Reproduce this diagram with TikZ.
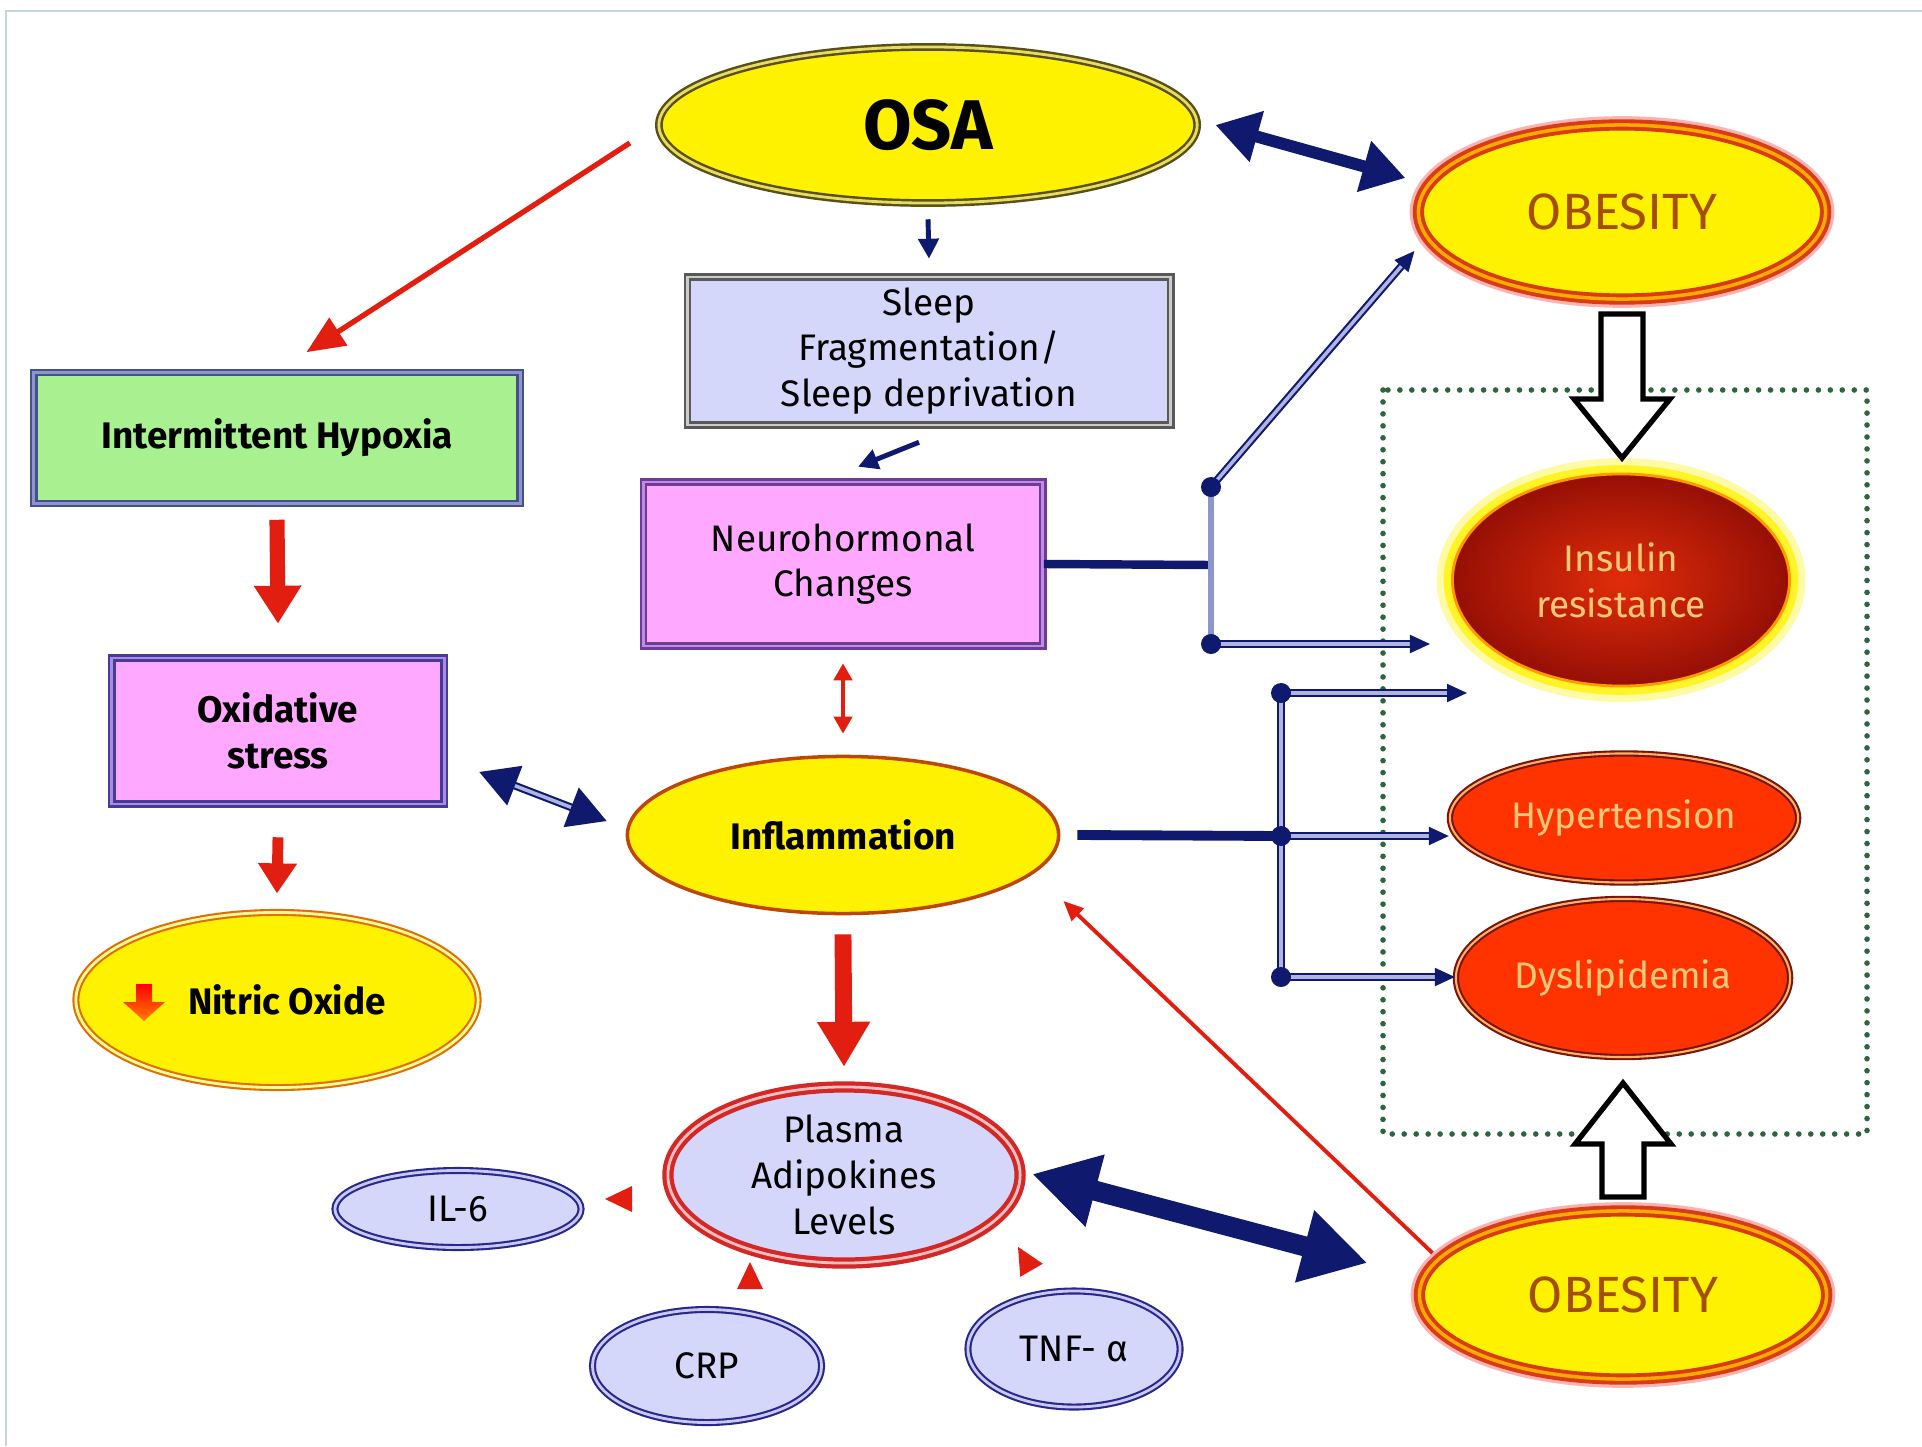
\documentclass[tikz,border=0pt]{standalone}
\usepackage{fontspec}
\setmainfont{Fira Sans}
\usetikzlibrary{shapes.geometric,arrows.meta}

\definecolor{navyc}{RGB}{15,25,110}
\definecolor{redc}{RGB}{225,30,15}
\definecolor{framec}{RGB}{197,213,216}
\definecolor{greenc}{RGB}{46,100,64}
\definecolor{lavender}{RGB}{212,214,250}
\definecolor{pinkbox}{RGB}{255,168,255}
\definecolor{greenbox}{RGB}{168,240,144}
\definecolor{obtext}{RGB}{165,78,0}
\definecolor{redoval}{RGB}{255,51,0}
\definecolor{creamtext}{RGB}{255,200,120}

\begin{document}
\begin{tikzpicture}[x=0.01cm,y=-0.01cm,
  txt/.style={font=\fontsize{10.5}{13}\selectfont},
  box/.style={rectangle, inner sep=0pt, align=center, txt, line width=0.7pt, double distance=0.8pt},
  oval/.style={ellipse, inner sep=0pt, align=center, txt},
  obesity/.style={oval, fill=yellow, draw={rgb,255:red,215;green,60;blue,20}, double={rgb,255:red,255;green,170;blue,0},
    double distance=1pt, line width=1.1pt, preaction={draw=red!30, line width=5pt},
    text=obtext, font=\fontsize{14.5}{16}\selectfont, minimum width=4.07cm},
  redbox/.style={oval, fill=redoval, draw={rgb,255:red,120;green,20;blue,10}, double=orange!60,
    double distance=0.6pt, line width=0.6pt, text=creamtext},
  small/.style={oval, fill=lavender, draw={rgb,255:red,40;green,40;blue,140}, double={rgb,255:red,200;green,200;blue,240},
    double distance=0.8pt, line width=0.6pt},
  navysmall/.style={draw=navyc, line width=1.4pt, -{Triangle[length=0.2cm,width=0.2cm]}},
  bignavy/.style={draw=navyc, line width=#1},
  fatred/.style={draw=redc, line width=#1},
  dblink/.style={draw=navyc, double={rgb,255:red,175;green,180;blue,225}, double distance=1pt, line width=0.6pt},
  blockarrow/.style={draw=black, line width=1.5pt, fill=white, line join=miter},
  dot/.style={fill=navyc}
]
\useasboundingbox (0,0) rectangle (1922,1446);
\fill[white] (0,0) rectangle (1922,1446);
\draw[framec, line width=0.6pt] (6,1446) -- (6,11) -- (1922,11);

% dotted frame round the outcomes
\draw[greenc, line width=1.6pt, line cap=round, dash pattern=on 0pt off 3.4pt] (1383,390) rectangle (1867,1134);

\node[oval, fill=yellow, draw={rgb,255:red,90;green,80;blue,20}, double={rgb,255:red,230;green,220;blue,100},
  double distance=0.8pt, line width=0.7pt, minimum width=5.38cm, minimum height=1.56cm,
  font=\fontsize{20}{22}\selectfont\bfseries] (osa) at (928,125) {OSA};
\node[obesity, minimum height=1.74cm] (obtop) at (1622,212) {OBESITY};
\node[box, fill=lavender, draw=black!65, double=gray!40, minimum width=4.83cm, minimum height=1.48cm]
  (sleep) at (929,351) {Sleep\\Fragmentation/\\Sleep deprivation};
\node[box, fill=pinkbox, draw={rgb,255:red,110;green,60;blue,150}, double={rgb,255:red,190;green,140;blue,230},
  minimum width=3.99cm, minimum height=1.64cm] (neuro) at (843,564) {Neurohormonal\\Changes};
\node[box, fill=greenbox, draw={rgb,255:red,70;green,80;blue,140}, double={rgb,255:red,140;green,150;blue,200},
  minimum width=4.86cm, minimum height=1.31cm, font=\fontsize{10.5}{13}\selectfont\bfseries]
  (hypoxia) at (277,438) {Intermittent Hypoxia};
\node[box, fill=pinkbox, draw={rgb,255:red,70;green,60;blue,150}, double={rgb,255:red,170;green,140;blue,230},
  minimum width=3.32cm, minimum height=1.46cm, font=\fontsize{10.5}{13}\selectfont\bfseries]
  (oxid) at (278,731) {Oxidative\\stress};
\node[oval, fill=yellow, draw={rgb,255:red,225;green,110;blue,0}, double=yellow!40, double distance=0.8pt,
  line width=0.6pt, minimum width=4.02cm, minimum height=1.75cm, font=\fontsize{10.5}{13}\selectfont\bfseries]
  (nitric) at (277,1000) {\hspace*{0.2cm}Nitric Oxide};
\node[oval, fill=yellow, draw={rgb,255:red,190;green,70;blue,0}, line width=1pt,
  minimum width=4.31cm, minimum height=1.57cm, font=\fontsize{10.5}{13}\selectfont\bfseries]
  (inflam) at (843,835) {Inflammation};
\node[oval, fill=lavender, draw={rgb,255:red,210;green,40;blue,40}, double=red!25, double distance=0.8pt,
  line width=1.2pt, minimum width=3.52cm, minimum height=1.76cm] (plasma) at (844,1175) {Plasma\\Adipokines\\Levels};
\node[small, minimum width=2.46cm, minimum height=0.77cm] (il6) at (458,1209) {IL-6};
\node[small, minimum width=2.29cm, minimum height=1.13cm] (crp) at (707,1366) {CRP};
\node[small, minimum width=2.12cm, minimum height=1.16cm] (tnf) at (1074,1349) {TNF- α};
\node[oval, shading=radial, inner color={rgb,255:red,225;green,45;blue,10}, outer color={rgb,255:red,150;green,15;blue,5},
  draw=orange!80!yellow, line width=0.8pt, preaction={draw=yellow!35, line width=9pt},
  preaction={draw=yellow!85, line width=5pt}, text=creamtext,
  minimum width=3.37cm, minimum height=2.12cm] (insulin) at (1621,580) {Insulin\\resistance};
\node[redbox, minimum width=3.48cm, minimum height=1.29cm] (hyper) at (1624,818) {Hypertension};
\node[redbox, minimum width=3.34cm, minimum height=1.58cm] (dysl) at (1623,978) {Dyslipidemia};
\node[obesity, minimum height=1.68cm] (obbot) at (1623,1295) {OBESITY};

% arrows on the left
\draw[fatred=1.5pt, -{Triangle[length=0.38cm,width=0.32cm]}, shorten <=0.33cm, shorten >=0.35cm] (osa.west) -- (hypoxia.north);
\draw[fatred=4.3pt, -{Triangle[length=0.38cm,width=0.45cm]}] ([shift={(0,15)}]hypoxia.south) -- ([shift={(0,-33)}]oxid.north);
\draw[fatred=3.1pt, -{Triangle[length=0.3cm,width=0.37cm]}] ([shift={(0,32)}]oxid.south) -- ([shift={(0,-18)}]nitric.north);
\shade[top color=red, bottom color=orange, shift={([shift={(-133,2)}]nitric.center)}]
  (-8,-18) -- (8,-18) -- (8,0) -- (21,0) -- (0,19) -- (-21,0) -- (-8,0) -- cycle;
\draw[dblink, {Triangle[length=0.38cm,width=0.42cm]}-{Triangle[length=0.38cm,width=0.42cm]}]
  ([shift={(34,41)}]oxid.east) -- ([shift={(-19,-14)}]inflam.west);

% arrows in the middle
\draw[navysmall] ([shift={(0,15)}]osa.south) -- ([shift={(0,-17)}]sleep.north);
\draw[navysmall] ([shift={(-10,16)}]sleep.south) -- ([shift={(15,-14)}]neuro.north);
\draw[fatred=1.2pt, {Triangle[length=0.17cm,width=0.18cm]}-{Triangle[length=0.17cm,width=0.18cm]}]
  ([shift={(0,16)}]neuro.south) -- ([shift={(0,-21)}]inflam.north);
\draw[fatred=4.8pt, -{Triangle[length=0.45cm,width=0.5cm]}] ([shift={(0,19)}]inflam.south) -- ([shift={(0,-18)}]plasma.north);
\draw[fatred=1.1pt, -{Triangle[length=0.2cm,width=0.17cm]}] ([shift={(15,-42)}]obbot.west) -- ([shift={(3,66)}]inflam.east);

% the two obesity links
\draw[bignavy=3.4pt, {Triangle[length=0.43cm,width=0.5cm]}-{Triangle[length=0.43cm,width=0.5cm]}]
  ([shift={(17,0)}]osa.east) -- ([shift={(-11,-34)}]obtop.west);
\draw[bignavy=5.7pt, {Triangle[length=0.65cm,width=0.7cm]}-{Triangle[length=0.65cm,width=0.7cm]}]
  ([shift={(10,-1)}]plasma.east) -- ([shift={(-50,-32)}]obbot.west);

% adipokines
\fill[redc, shift={(619,1199)}, rotate=180] (14,0) -- (-13,13) -- (-13,-13) -- cycle;
\fill[redc, shift={(750,1276)}, rotate=90] (14,0) -- (-13,13) -- (-13,-13) -- cycle;
\fill[redc, shift={(1025,1259)}, rotate=120] (14,0) -- (-13,13) -- (-13,-13) -- cycle;

% block arrows
\draw[blockarrow, shift={(obtop.south)}] (-21,13) -- (-21,98) -- (-48,98) -- (0,157) -- (48,98) -- (21,98) -- (21,13) -- cycle;
\draw[blockarrow, shift={(obbot.north)}] (-21,-12) -- (-21,-65) -- (-48,-65) -- (0,-126) -- (48,-65) -- (21,-65) -- (21,-12) -- cycle;

% neurohormonal branch
\coordinate (n1) at (1211,565);
\coordinate (nA) at (1211,487);
\coordinate (nB) at (1211,644);
\draw[bignavy=2.4pt] (neuro.east) -- (n1);
\draw[draw={rgb,255:red,140;green,150;blue,200}, line width=1.6pt] (nA) -- (nB);
\draw[dblink, -{Triangle[length=0.2cm,width=0.18cm]}] (nA) -- ([shift={(-2,39)}]obtop.west);
\draw[dblink, -{Triangle[length=0.2cm,width=0.18cm]}, shorten >=0.21cm] (nB) -- (nB -| insulin.west);
\fill[dot] (nA) circle (0.1cm);
\fill[dot] (nB) circle (0.1cm);

% inflammation branch
\coordinate (m1) at (1281,836);
\coordinate (mA) at (1281,693);
\coordinate (mC) at (1281,977);
\coordinate (irA) at (1467,693);
\draw[bignavy=2.8pt] ([shift={(17,0)}]inflam.east) -- (m1);
\draw[dblink] (mA) -- (mC);
\draw[dblink, -{Triangle[length=0.2cm,width=0.18cm]}] (mA) -- (irA);
\draw[dblink, -{Triangle[length=0.2cm,width=0.18cm]}] (m1) -- (m1 -| hyper.west);
\draw[dblink, -{Triangle[length=0.2cm,width=0.18cm]}] (mC) -- (mC -| dysl.west);
\fill[dot] (mA) circle (0.1cm);
\fill[dot] (m1) circle (0.1cm);
\fill[dot] (mC) circle (0.1cm);

\end{tikzpicture}
\end{document}
